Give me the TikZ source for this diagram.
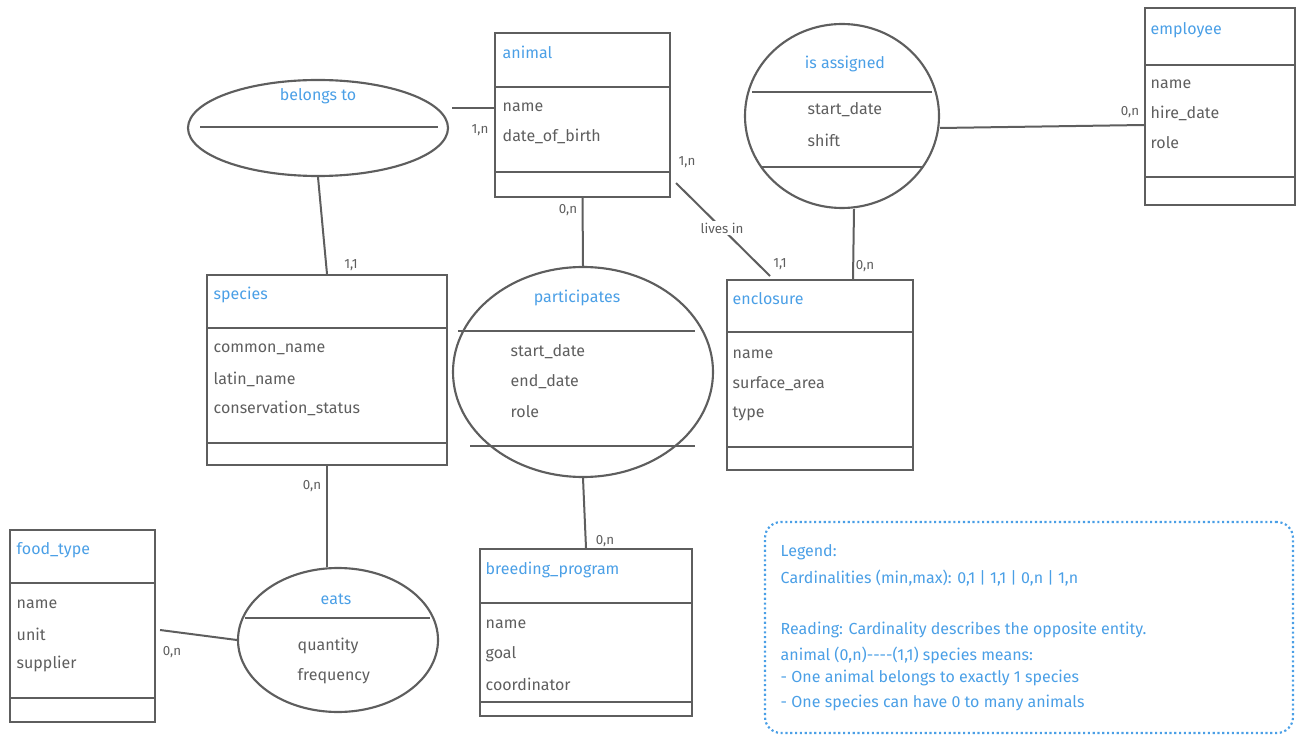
\documentclass[tikz,border=0pt]{standalone}
\usepackage{fontspec}
\setmainfont{Fira Sans}[Ligatures=NoCommon]
\usetikzlibrary{shapes.geometric}
\definecolor{ink}{HTML}{5E5E5E}
\definecolor{blu}{HTML}{4A9FE6}
\begin{document}
\begin{tikzpicture}[x=0.75pt,y=-0.75pt,
  ent/.style={draw=ink,line width=1.6pt,rectangle,inner sep=0pt},
  rel/.style={draw=ink,line width=1.6pt,ellipse,inner sep=0pt},
  sep/.style={draw=ink,line width=1pt},
  con/.style={draw=ink,line width=1.5pt},
  ttl/.style={text=blu,font=\fontsize{12}{14}\selectfont,anchor=west},
  att/.style={text=ink,font=\fontsize{12}{14}\selectfont,anchor=west},
  card/.style={text=ink,font=\fontsize{10}{12}\selectfont},
  leg/.style={text=blu,font=\fontsize{12}{14}\selectfont,anchor=west}]
\useasboundingbox (0,0) rectangle (1310,752);
% entities
\node[ent,minimum width=131.25pt,minimum height=123pt] (animal) at (582.5,115) {};
\draw[sep] (495,87)--(670,87) (495,172)--(670,172);
\node[ttl] (tA) at (498,52) {animal};
\node[att] (a1) at (498,107) {name};
\node[att] (a2) at (498,136) {date\_of\_birth};

\node[ent,minimum width=112.5pt,minimum height=147.75pt] (employee) at (1220,106.5) {};
\draw[sep] (1145,65)--(1295,65) (1145,177)--(1295,177);
\node[ttl] (tE) at (1146,30) {employee};
\node[att] (e1) at (1146,84) {name};
\node[att] (e2) at (1146,113) {hire\_date};
\node[att] (e3) at (1146,143) {role};

\node[ent,minimum width=180pt,minimum height=142.5pt] (species) at (327,370) {};
\draw[sep] (207,328)--(447,328) (207,443)--(447,443);
\node[ttl] (tS) at (209,295) {species};
\node[att] (s1) at (209,349) {common\_name};
\node[att] (s2) at (209,379) {latin\_name};
\node[att] (s3) at (209,408) {conservation\_status};

\node[ent,minimum width=139.5pt,minimum height=142.5pt] (enclosure) at (820,375) {};
\draw[sep] (727,332)--(913,332) (727,447)--(913,447);
\node[ttl] (tN) at (728,299) {enclosure};
\node[att] (n1) at (728,354) {name};
\node[att] (n2) at (728,384) {surface\_area};
\node[att] (n3) at (728,414) {type};

\node[ent,minimum width=108.75pt,minimum height=144pt] (food) at (82.5,626) {};
\draw[sep] (10,583)--(155,583) (10,698)--(155,698);
\node[ttl] (tF) at (12,550) {food\_type};
\node[att] (f1) at (12,604) {name};
\node[att] (f2) at (12,634) {unit};
\node[att] (f3) at (12,664) {supplier};

\node[ent,minimum width=159pt,minimum height=125.25pt] (breed) at (586,632.5) {};
\draw[sep] (480,603)--(692,603) (480,702)--(692,702);
\node[ttl] (tB) at (481,570) {breeding\_program};
\node[att] (b1) at (481,624) {name};
\node[att] (b2) at (481,654) {goal};
\node[att] (b3) at (481,684) {coordinator};

% relationships
\node[rel,minimum width=195pt,minimum height=72pt] (belongs) at (318,128) {};
\draw[sep] (200,127)--(438,127);
\node[text=blu,font=\fontsize{12}{14}\selectfont] (tb) at (318,96) {belongs to};

\node[rel,minimum width=145.5pt,minimum height=138pt] (assigned) at (842,116) {};
\draw[sep] (752,92)--(932,92) (762,167)--(922,167);
\node[text=blu,font=\fontsize{12}{14}\selectfont] (ta) at (845,64) {is assigned};
\node[att] (i1) at (803,110) {start\_date};
\node[att] (i2) at (803,140) {shift};

\node[rel,minimum width=195pt,minimum height=157.5pt] (part) at (583,372) {};
\draw[sep] (458,331)--(695,331) (470,446)--(695,446);
\node[text=blu,font=\fontsize{12}{14}\selectfont] (tp) at (577,298) {participates};
\node[att] (p1) at (506,352) {start\_date};
\node[att] (p2) at (506,382) {end\_date};
\node[att] (p3) at (506,412) {role};

\node[rel,minimum width=150pt,minimum height=108pt] (eats) at (338,640) {};
\draw[sep] (245,618)--(430,618);
\node[text=blu,font=\fontsize{12}{14}\selectfont] (te) at (336,599) {eats};
\node[att] (q1) at (293,646) {quantity};
\node[att] (q2) at (293,676) {frequency};

% connectors
\draw[con] (belongs.east |- 0,108) ++(3,0) -- (animal.west |- 0,108);
\node[card] (c1) at (480,130) {1,n};
\draw[con] (belongs.south) -- (species.north);
\node[card] (c2) at (351,265) {1,1};
\draw[con] (animal.south) -- (part.north);
\node[card] (c3) at (568,210) {0,n};
\coordinate (al) at (676,183);
\coordinate (el) at (770,276);
\draw[con] (al) -- (el);
\node[card] (c4) at (687,162) {1,n};
\node[card,fill=white,inner sep=1pt] (lv) at (722,228) {lives in};
\node[card] (c5) at (780,264) {1,1};
\draw[con] (assigned.east) ++(0,12) -- (employee.west |- 0,125);
\node[card] (c6) at (1130,112) {0,n};
\draw[con] (assigned.south) ++(12,0) -- (enclosure.north -| 853,0);
\node[card] (c7) at (865,266) {0,n};
\draw[con] (species.south) -- (eats.north -| 327,0);
\node[card] (c8) at (312,486) {0,n};
\draw[con] (part.south) -- (breed.north);
\node[card] (c9) at (605,541) {0,n};
\draw[con] (food.east |- 0,630) ++(4,0) -- (eats.west);
\node[card] (c10) at (172,652) {0,n};

% legend
\node[draw=blu,dotted,line width=1.6pt,rounded corners=12pt,minimum width=396pt,minimum height=158.25pt] (legend) at (1029,627.5) {};
\node[leg] (l1) at (776,552) {Legend:};
\node[leg] (l2) at (776,578) {Cardinalities (min,max): 0,1 | 1,1 | 0,n | 1,n};
\node[leg] (l3) at (776,630) {Reading: Cardinality describes the opposite entity.};
\node[leg] (l4) at (776,655) {animal (0,n){-}{-}{-}{-}(1,1) species means:};
\node[leg] (l5) at (776,678) {- One animal belongs to exactly 1 species};
\node[leg] (l6) at (776,703) {- One species can have 0 to many animals};
\end{tikzpicture}
\end{document}
